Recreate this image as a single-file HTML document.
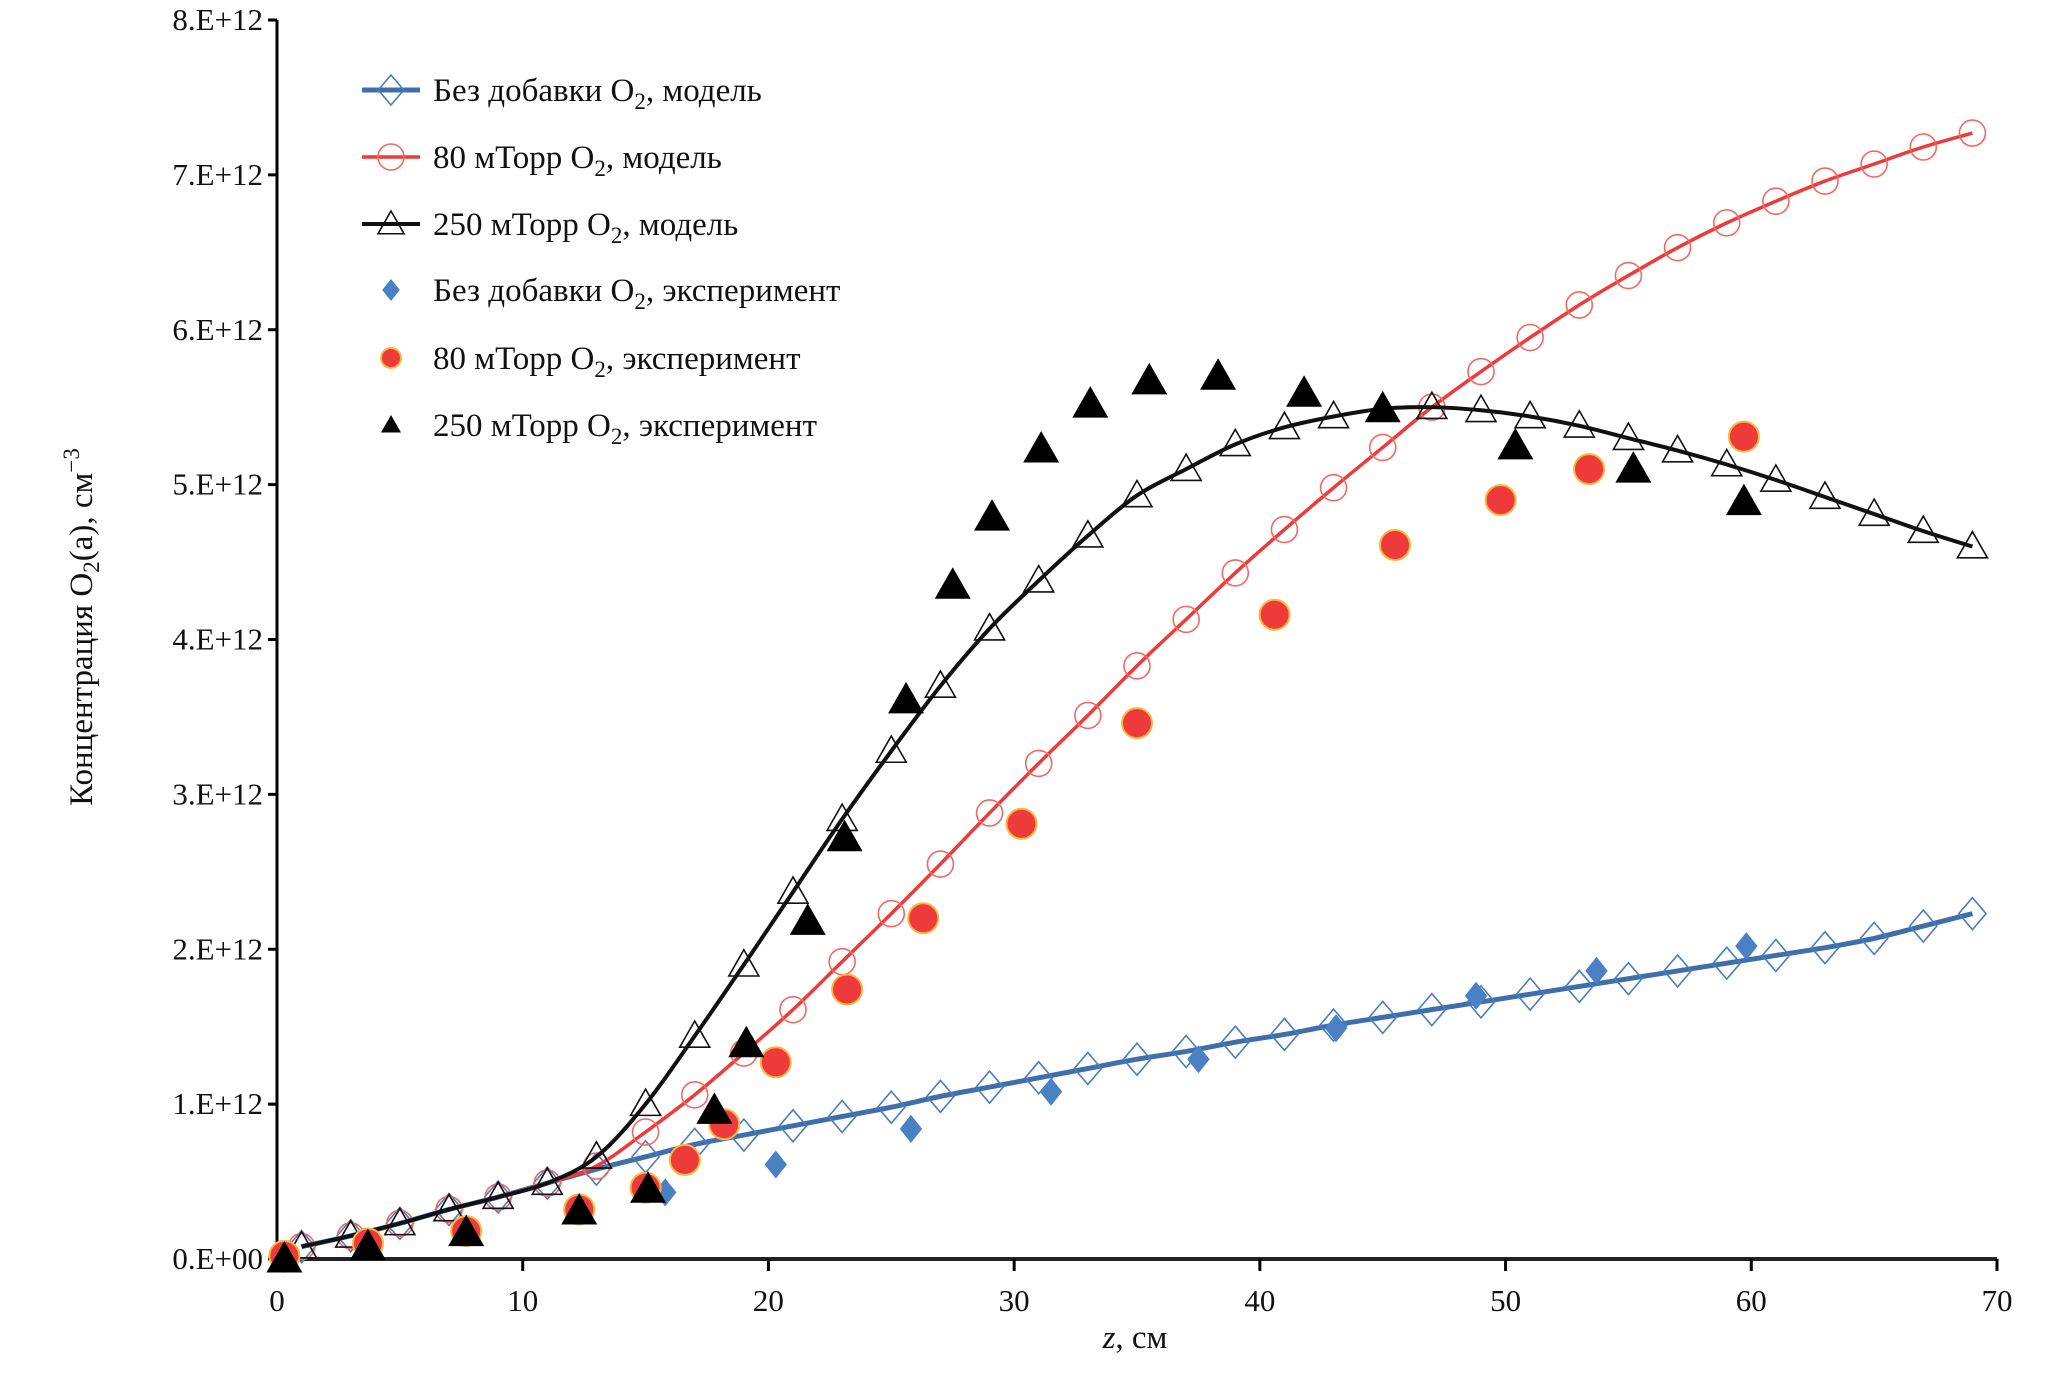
<!DOCTYPE html>
<html><head><meta charset="utf-8"><style>
html,body{margin:0;padding:0;background:#fff;}
svg{display:block;font-family:"Liberation Serif",serif;}
</style></head><body>
<svg id="chart" width="2067" height="1376" viewBox="0 0 2067 1376"></svg>
<script>
const zModel=[1,3,5,7,9,11,13,15,17,19,21,23,25,27,29,31,33,35,37,39,41,43,45,47,49,51,53,55,57,59,61,63,65,67,69];
const blueModel=[0.08,0.15,0.23,0.32,0.40,0.49,0.58,0.66,0.74,0.80,0.86,0.92,0.98,1.05,1.11,1.17,1.23,1.29,1.34,1.40,1.45,1.51,1.56,1.61,1.66,1.71,1.76,1.81,1.86,1.91,1.96,2.01,2.07,2.15,2.23];
const redModel=[0.08,0.15,0.23,0.32,0.40,0.49,0.60,0.82,1.06,1.33,1.61,1.92,2.23,2.55,2.88,3.20,3.51,3.83,4.13,4.43,4.71,4.98,5.24,5.50,5.73,5.95,6.16,6.35,6.53,6.69,6.83,6.96,7.07,7.18,7.27];
const blackModel=[0.08,0.15,0.23,0.32,0.40,0.49,0.66,1.00,1.44,1.90,2.37,2.84,3.28,3.70,4.07,4.38,4.67,4.93,5.10,5.26,5.37,5.44,5.49,5.50,5.48,5.44,5.38,5.30,5.22,5.13,5.03,4.92,4.81,4.70,4.60];
const zBlueExp=[0.3,15.8,20.3,25.8,31.5,37.5,43.1,48.8,53.7,59.8];
const blueExp=[0.0,0.43,0.61,0.84,1.08,1.29,1.49,1.70,1.86,2.02];
const zRedExp=[0.3,3.7,7.7,12.3,15.0,16.6,18.2,20.3,23.2,26.3,30.3,35.0,40.6,45.5,49.8,53.4,59.7];
const redExp=[0.02,0.10,0.18,0.32,0.46,0.64,0.87,1.27,1.74,2.20,2.81,3.46,4.16,4.61,4.90,5.10,5.31];
const zBlackExp=[0.3,3.7,7.7,12.3,15.1,17.8,19.1,21.6,23.1,25.6,27.5,29.1,31.1,33.1,35.5,38.3,41.8,45.0,50.4,55.2,59.7];
const blackExp=[0.0,0.08,0.17,0.31,0.45,0.96,1.39,2.18,2.72,3.61,4.35,4.79,5.23,5.52,5.67,5.70,5.59,5.49,5.25,5.10,4.89];
const xTicks=[0,10,20,30,40,50,60,70];
const yTicks=[0,1,2,3,4,5,6,7,8];
const yTickLabels=["0.E+00","1.E+12","2.E+12","3.E+12","4.E+12","5.E+12","6.E+12","7.E+12","8.E+12"];

const svg=document.getElementById('chart');
const NS='http://www.w3.org/2000/svg';
const X0=277,X1=1997,Y0=1259,Y1=20;
const sx=z=>X0+(X1-X0)*z/70;
const sy=v=>Y0-(Y0-Y1)*v/8;
function mk(tag,attrs,parent){const e=document.createElementNS(NS,tag);for(const k in attrs)e.setAttribute(k,attrs[k]);(parent||svg).appendChild(e);return e;}

const axes=mk('g',{});


const yAxis=mk('line',{x1:X0,y1:Y1,x2:X0,y2:Y0,stroke:'#000','stroke-width':3},axes);


const xAxis=mk('line',{x1:X0,y1:Y0,x2:X1,y2:Y0,stroke:'#222','stroke-width':4},axes);


yTicks.forEach((t,i)=>{
  mk('line',{x1:X0-9,y1:sy(t),x2:X0,y2:sy(t),stroke:'#000','stroke-width':3},axes);
  const tx=mk('text',{x:X0-14,y:sy(t)+10,'text-anchor':'end','font-size':31,fill:'#111'},axes);
  tx.textContent=yTickLabels[i];
  
  
});
xTicks.forEach(t=>{
  mk('line',{x1:sx(t),y1:Y0,x2:sx(t),y2:Y0+12,stroke:'#000','stroke-width':3},axes);
  const tx=mk('text',{x:sx(t),y:Y0+52,'text-anchor':'middle','font-size':31,fill:'#111'},axes);
  tx.textContent=t;
  
  
});
const xt=mk('text',{x:1135,y:1348,'text-anchor':'middle','font-size':33,fill:'#111'});
xt.innerHTML='<tspan font-style="italic">z</tspan>, см';


const yt=mk('text',{x:0,y:0,'text-anchor':'middle','font-size':33,fill:'#111',transform:'translate(92,627) rotate(-90)'});
yt.innerHTML='Концентрация O<tspan font-size="23" dy="7">2</tspan><tspan dy="-7">(a), см</tspan><tspan font-size="23" dy="-13">−3</tspan>';



function diamond(g,x,y,r,fill,stroke,sw,w){w=w||0.75;return mk('polygon',{points:`${x},${y-r} ${x+r*w},${y} ${x},${y+r} ${x-r*w},${y}`,fill,stroke,'stroke-width':sw},g);}
function tri(g,x,y,r,fill,stroke,sw){return mk('polygon',{points:`${x},${y-r} ${x+r},${y+r*0.75} ${x-r},${y+r*0.75}`,fill,stroke,'stroke-width':sw},g);}
function circ(g,x,y,r,fill,stroke,sw){return mk('circle',{cx:x,cy:y,r,fill,stroke,'stroke-width':sw},g);}

function modelSeries(name,vals,color,lw,markerFn){
  const g=mk('g',{});
  
  
  const pts=zModel.map((z,i)=>[sx(z),sy(vals[i])]);
  let d='M'+pts[0][0]+','+pts[0][1];
  for(let i=0;i<pts.length-1;i++){
    const p0=pts[Math.max(0,i-1)],p1=pts[i],p2=pts[i+1],p3=pts[Math.min(pts.length-1,i+2)];
    d+=` C${p1[0]+(p2[0]-p0[0])/6},${p1[1]+(p2[1]-p0[1])/6} ${p2[0]-(p3[0]-p1[0])/6},${p2[1]-(p3[1]-p1[1])/6} ${p2[0]},${p2[1]}`;
  }
  const path=mk('path',{d,fill:'none',stroke:color,'stroke-width':lw},g);
  
  
  pts.forEach(p=>{
    const m=markerFn(g,p[0],p[1]);
    
    
  });
}
modelSeries('blue-model',blueModel,'#3f6faa',5,(g,x,y)=>diamond(g,x,y,16,'none','#4a7cc0',1.6,0.85));
modelSeries('red-model',redModel,'#ee3a3a',3.5,(g,x,y)=>circ(g,x,y,13,'none','#f06a60',1.6));
modelSeries('black-model',blackModel,'#111',4,(g,x,y)=>tri(g,x,y,15,'none','#111',1.6));

function expSeries(name,zs,vals,markerFn){
  const g=mk('g',{});
  
  
  zs.forEach((z,i)=>{
    const m=markerFn(g,sx(z),sy(vals[i]));
    
    
  });
}
expSeries('blue-experiment',zBlueExp,blueExp,(g,x,y)=>diamond(g,x,y,14,'#4a80c4','none',0,0.8));
expSeries('red-experiment',zRedExp,redExp,(g,x,y)=>circ(g,x,y,15,'#ee3a3a','#f5b940',2));
expSeries('black-experiment',zBlackExp,blackExp,(g,x,y)=>tri(g,x,y,18,'#000','none',0));

const leg=mk('g',{});


const rows=[
 ['Без добавки O',', модель','bm'],
 ['80 мТорр O',', модель','rm'],
 ['250 мТорр O',', модель','km'],
 ['Без добавки O',', эксперимент','be'],
 ['80 мТорр O',', эксперимент','re'],
 ['250 мТорр O',', эксперимент','ke']];
const ly=[90,157,224,290,358,425];
rows.forEach((r,i)=>{
  const y=ly[i];
  const e=mk('g',{},leg);
  
  
  const cx=391;
  if(r[2]==='bm'){mk('line',{x1:362,y1:y,x2:420,y2:y,stroke:'#3f6faa','stroke-width':5},e);diamond(e,cx,y,15,'none','#4a7cc0',1.6,0.85);}
  if(r[2]==='rm'){mk('line',{x1:362,y1:y,x2:420,y2:y,stroke:'#ee3a3a','stroke-width':3.5},e);circ(e,cx,y,13,'none','#f06a60',1.6);}
  if(r[2]==='km'){mk('line',{x1:362,y1:y,x2:420,y2:y,stroke:'#111','stroke-width':4},e);tri(e,cx,y,13,'none','#111',1.6);}
  if(r[2]==='be')diamond(e,cx,y,11,'#4a80c4','none',0,0.8);
  if(r[2]==='re')circ(e,cx,y,10,'#ee3a3a','#f5b940',2);
  if(r[2]==='ke')tri(e,cx,y,10,'#000','none',0);
  const t=mk('text',{x:433,y:y+11,'font-size':33,fill:'#111'},e);
  t.innerHTML=r[0]+'<tspan font-size="23" dy="8">2</tspan><tspan dy="-8">'+r[1]+'</tspan>';
});
</script>
</body></html>
